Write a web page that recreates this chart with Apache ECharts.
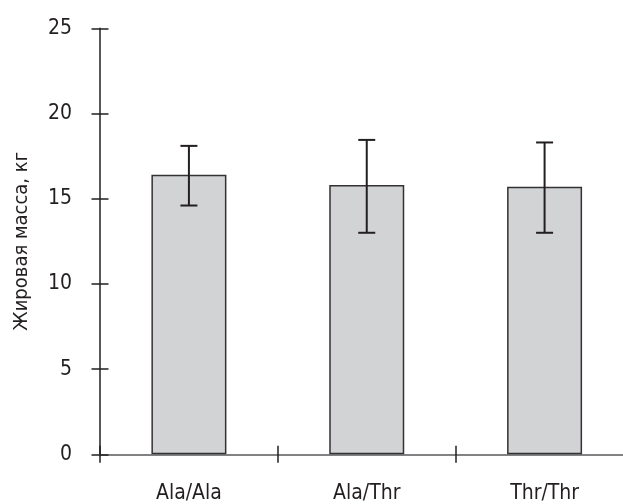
<!DOCTYPE html>
<html>
<head>
<meta charset="utf-8">
<script src="https://cdn.jsdelivr.net/npm/echarts@6/dist/echarts.min.js"></script>
<style>html,body{margin:0;padding:0;background:#fff}#c{width:623px;height:504px}</style>
</head>
<body>
<div id="c"></div>
<script>
const categories = ['Ala/Ala', 'Ala/Thr', 'Thr/Thr'];
const means = [16.4, 15.8, 15.7];
const errLow = [14.6, 13.0, 13.0];
const errHigh = [18.1, 18.45, 18.3];
const yTicks = [0, 5, 10, 15, 20, 25];

const FONT = '"Liberation Sans Narrow", "DejaVu Sans Condensed", "Arial Narrow", sans-serif';
const TXT = '#231f20';
const AX = '#58595b';

const chart = echarts.init(document.getElementById('c'), null, {renderer: 'canvas'});
const errData = categories.map((c, i) => [i, errLow[i], errHigh[i]]);

chart.setOption({
  animation: false,
  backgroundColor: '#fff',
  grid: {left: 100, top: 28.3, height: 426, width: 533.5, containLabel: false, outerBoundsMode: 'none'},
  xAxis: [{
    type: 'category', data: categories, boundaryGap: true,
    axisLine: {show: true, lineStyle: {color: AX, width: 1.5}},
    axisTick: {show: false},
    axisLabel: {color: TXT, fontFamily: FONT, fontSize: 21, margin: 29}
  }, {
    type: 'category', data: categories, boundaryGap: true, position: 'bottom', offset: -8.5,
    axisLine: {show: false},
    axisTick: {show: true, length: 17, lineStyle: {color: TXT, width: 1.5}},
    axisLabel: {show: false}
  }],
  yAxis: [{
    type: 'value', min: 0, max: 25, interval: 5,
    name: 'Жировая масса, кг', nameLocation: 'middle', nameGap: 68,
    nameTextStyle: {color: TXT, fontFamily: FONT, fontSize: 20},
    axisLine: {show: true, lineStyle: {color: TXT, width: 1.5}},
    axisTick: {show: false},
    axisLabel: {color: TXT, fontFamily: FONT, fontSize: 21, margin: 28,
      formatter: v => yTicks.includes(v) ? String(v) : ''},
    splitLine: {show: false}
  }, {
    type: 'value', min: 0, max: 25, interval: 5, position: 'left', offset: -8.5,
    axisLine: {show: false},
    axisTick: {show: true, length: 17, lineStyle: {color: TXT, width: 1.5}},
    axisLabel: {show: false},
    splitLine: {show: false}
  }],
  series: [{
    type: 'bar', data: means, barWidth: 75, xAxisIndex: 0, yAxisIndex: 0,
    itemStyle: {color: '#d1d3d4', borderColor: '#333132', borderWidth: 1.5},
    z: 2
  }, {
    type: 'custom', xAxisIndex: 0, yAxisIndex: 0, data: errData, z: 5,
    renderItem: function (params, api) {
      const x = api.value(0);
      const lo = api.coord([x, api.value(1)]);
      const hi = api.coord([x, api.value(2)]);
      const hw = 8.5;
      const st = {stroke: TXT, lineWidth: 2};
      return {type: 'group', children: [
        {type: 'line', shape: {x1: lo[0], y1: lo[1], x2: hi[0], y2: hi[1]}, style: st},
        {type: 'line', shape: {x1: hi[0] - hw, y1: hi[1], x2: hi[0] + hw, y2: hi[1]}, style: st},
        {type: 'line', shape: {x1: lo[0] - hw, y1: lo[1], x2: lo[0] + hw, y2: lo[1]}, style: st}
      ]};
    }
  }]
});
</script>
</body>
</html>
